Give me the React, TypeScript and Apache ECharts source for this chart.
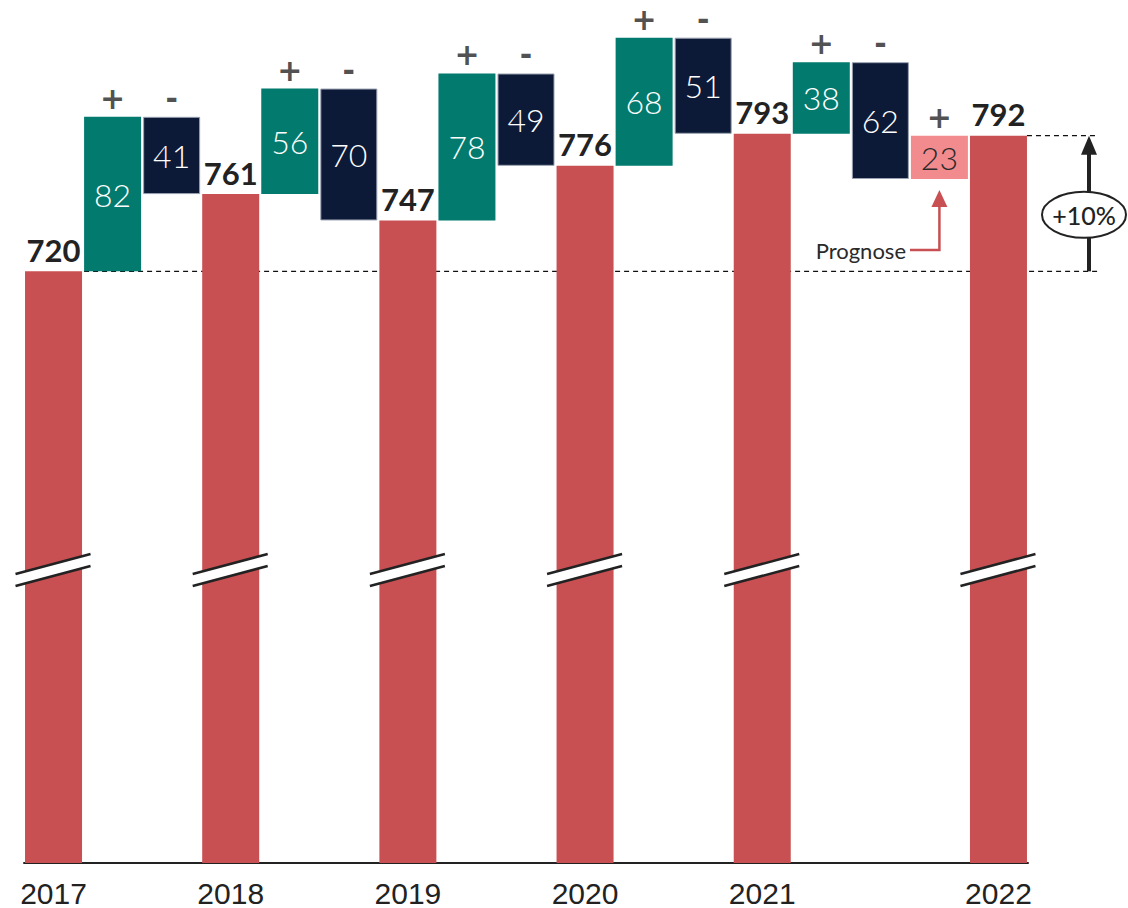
import React, { useEffect, useRef } from "react";
import * as echarts from "echarts";

const years = ["2017", "2018", "2019", "2020", "2021", "2022"];
const totals = [720, 761, 747, 776, 793, 792];
const increases = [82, 56, 78, 68, 38];
const decreases = [41, 70, 49, 51, 62];
const forecastIncrease = 23;
const growthLabel = "+10%";
const forecastNote = "Prognose";

type Kind = "total" | "up" | "down" | "forecast";
type Step = { key: string; kind: Kind; value: number; base: number; top: number };

function buildSteps(): Step[] {
  const steps: Step[] = [];
  for (let i = 0; i < years.length; i++) {
    steps.push({ key: years[i], kind: "total", value: totals[i], base: 0, top: totals[i] });
    if (i < increases.length) {
      const start = totals[i];
      const up = increases[i];
      steps.push({ key: "up" + i, kind: "up", value: up, base: start, top: start + up });
      const down = decreases[i];
      steps.push({ key: "down" + i, kind: "down", value: down, base: start + up - down, top: start + up });
      if (i === increases.length - 1) {
        const s = start + up - down;
        steps.push({ key: "fc", kind: "forecast", value: forecastIncrease, base: s, top: s + forecastIncrease });
      }
    }
  }
  return steps;
}

const RED = "#C85052";
const TEAL = "#027A6E";
const NAVY = "#0C1A38";
const PINK = "#F28B8E";
const INK = "#222222";
const VFONT = "Lato, 'DejaVu Sans', sans-serif";

export default function App() {
  const ref = useRef<HTMLDivElement>(null);
  useEffect(() => {
    if (!ref.current) return;
    const chart = echarts.init(ref.current, undefined, { renderer: "svg" });
    const steps = buildSteps();
    const keys = steps.map((s) => s.key);
    const pick = (k: Kind) => steps.map((s) => (s.kind === k ? s.value : "-"));
    const barW = 57;
    const inner = { show: true, position: "inside", fontSize: 32, fontWeight: 300, fontFamily: VFONT };

    const option: any = {
      animation: false,
      grid: { left: 24, right: 100, top: 0, bottom: 43 },
      xAxis: {
        type: "category",
        data: keys,
        axisLine: { lineStyle: { color: INK, width: 2 } },
        axisTick: { show: false },
        axisLabel: {
          interval: 0,
          formatter: (v: string) => (years.includes(v) ? v : ""),
          fontSize: 30,
          color: INK,
          fontFamily: "'Liberation Sans', Arial, sans-serif",
          margin: 15,
        },
      },
      yAxis: { type: "value", min: 406, max: 864, show: false, splitLine: { show: false } },
      series: [
        {
          name: "base",
          type: "bar",
          stack: "w",
          barWidth: barW,
          silent: true,
          itemStyle: { color: "transparent" },
          data: steps.map((s) => (s.kind === "total" ? 0 : s.base)),
        },
        {
          name: "total",
          type: "bar",
          stack: "w",
          barWidth: barW,
          itemStyle: { color: RED },
          label: {
            show: true,
            position: "top",
            distance: 6,
            fontSize: 31,
            fontWeight: "bold",
            color: INK,
            fontFamily: VFONT,
          },
          data: pick("total"),
        },
        {
          name: "up",
          type: "bar",
          stack: "w",
          barWidth: barW,
          itemStyle: { color: TEAL },
          label: { ...inner, color: "#ffffff" },
          data: pick("up"),
        },
        {
          name: "down",
          type: "bar",
          stack: "w",
          barWidth: barW,
          itemStyle: { color: NAVY, borderColor: "#9aa1b0", borderWidth: 1 },
          label: { ...inner, color: "#ffffff" },
          data: pick("down"),
        },
        {
          name: "forecast",
          type: "bar",
          stack: "w",
          barWidth: barW,
          itemStyle: { color: PINK },
          label: { ...inner, color: "#2a2a2a" },
          data: pick("forecast"),
        },
        {
          name: "signs",
          type: "scatter",
          symbolSize: 1,
          itemStyle: { color: "transparent" },
          silent: true,
          label: {
            show: true,
            position: "top",
            distance: 3,
            fontSize: 30,
            fontWeight: "bold",
            color: INK,
            fontFamily: "'DejaVu Sans', sans-serif",
            formatter: (p: any) => (p.data[2] === "down" ? "-" : "+"),
          },
          data: steps
            .map((s, i) => [i, s.top, s.kind])
            .filter((d) => d[2] !== "total"),
        },
      ],
    };
    chart.setOption(option);

    const px = (i: number) => chart.convertToPixel({ xAxisIndex: 0 }, keys[i]) as number;
    const py = (v: number) => chart.convertToPixel({ yAxisIndex: 0 }, v) as number;
    const half = barW / 2;
    const firstUp = steps.findIndex((s) => s.kind === "up");
    const lastIdx = steps.length - 1;
    const fcIdx = steps.findIndex((s) => s.kind === "forecast");
    const y0 = py(totals[0]);
    const y1 = py(totals[totals.length - 1]);
    const arrowX = 1089;
    const rightEnd = 1098;

    const elements: any[] = [];
    elements.push({
      type: "line",
      z: -10,
      shape: { x1: px(firstUp) - half, y1: y0, x2: rightEnd, y2: y0 },
      style: { stroke: "#111111", lineWidth: 1.2, lineDash: [5, 4] },
    });
    elements.push({
      type: "line",
      z: -10,
      shape: { x1: px(lastIdx) + half, y1: y1, x2: rightEnd, y2: y1 },
      style: { stroke: "#111111", lineWidth: 1.2, lineDash: [5, 4] },
    });
    // growth arrow
    elements.push({
      type: "line",
      z: 100,
      shape: { x1: arrowX, y1: y0, x2: arrowX, y2: y1 + 14 },
      style: { stroke: INK, lineWidth: 4 },
    });
    elements.push({
      type: "polygon",
      z: 100,
      shape: { points: [[arrowX, y1], [arrowX - 8, y1 + 19], [arrowX + 8, y1 + 19]] },
      style: { fill: INK },
    });
    const ey = py(750);
    elements.push({
      type: "ellipse",
      z: 101,
      shape: { cx: 1084, cy: ey, rx: 42, ry: 23 },
      style: { fill: "#ffffff", stroke: INK, lineWidth: 2 },
    });
    elements.push({
      type: "text",
      z: 102,
      x: 1084,
      y: ey,
      style: {
        text: growthLabel,
        fontSize: 25,
        fontWeight: 500,
        fontFamily: VFONT,
        fill: INK,
        align: "center",
        verticalAlign: "middle",
      },
    });
    // forecast note
    const fx = px(fcIdx);
    const fBottom = py(steps[fcIdx].base);
    const noteY = 250;
    elements.push({
      type: "text",
      z: 100,
      x: 906,
      y: noteY,
      style: {
        text: forecastNote,
        fontSize: 22,
        fontWeight: 400,
        fontFamily: VFONT,
        fill: "#2a2a2a",
        align: "right",
        verticalAlign: "middle",
      },
    });
    elements.push({
      type: "polyline",
      z: 100,
      shape: { points: [[910, noteY], [fx, noteY], [fx, fBottom + 26]] },
      style: { stroke: RED, lineWidth: 2.5, fill: null },
    });
    elements.push({
      type: "polygon",
      z: 100,
      shape: { points: [[fx, fBottom + 11], [fx - 8, fBottom + 28], [fx + 8, fBottom + 28]] },
      style: { fill: RED },
    });
    // axis break marks
    steps.forEach((s, i) => {
      if (s.kind !== "total") return;
      const cx = px(i);
      const a = cx - 38;
      const b = cx + 37;
      elements.push({
        type: "polygon",
        z: 100,
        shape: { points: [[a, 574], [b, 554], [b, 566], [a, 586]] },
        style: { fill: "#ffffff" },
      });
      elements.push({
        type: "line",
        z: 101,
        shape: { x1: a, y1: 574, x2: b, y2: 554 },
        style: { stroke: INK, lineWidth: 2.5 },
      });
      elements.push({
        type: "line",
        z: 101,
        shape: { x1: a, y1: 586, x2: b, y2: 566 },
        style: { stroke: INK, lineWidth: 2.5 },
      });
    });
    chart.setOption({ graphic: { elements } });

    return () => chart.dispose();
  }, []);
  return (
    <div
      ref={ref}
      style={{ position: "fixed", left: 0, top: 0, width: 1128, height: 908, background: "#ffffff" }}
    />
  );
}
